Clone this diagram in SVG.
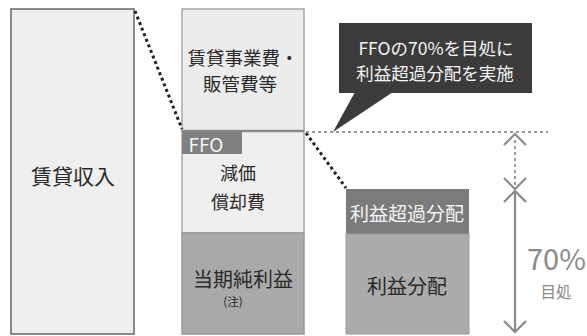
<svg xmlns="http://www.w3.org/2000/svg" width="587" height="336" viewBox="0 0 587 336">
<style>
text{font-family:"Noto Sans CJK JP","Noto Sans",sans-serif;text-anchor:middle;dominant-baseline:central}
.dk{fill:#2a2a2a}
.wt{fill:#f4f4f4}
.gy{fill:#8a8a8a}
.dot{stroke:#222;stroke-width:3;stroke-dasharray:3 3;fill:none}
.hd{stroke:#9a9a9a;stroke-width:2;stroke-dasharray:3 3;fill:none}
.ar{stroke:#8a8a8a;stroke-width:2.2;fill:none}
</style>
<rect width="587" height="336" fill="#ffffff"/>
<g id="rent-income">
<rect x="11" y="9" width="123" height="325" fill="#efefef" stroke="#666" stroke-width="1.5"/>
<text x="73" y="175" font-size="21" class="dk">賃貸収入</text>
</g>
<g id="expenses">
<rect x="182" y="9" width="122" height="122" fill="#ececec" stroke="#a8a8a8" stroke-width="1.5"/>
<text x="243" y="57" font-size="18.5" class="dk">賃貸事業費・</text>
<text x="240" y="83" font-size="18.5" class="dk">販管費等</text>
</g>
<g id="depreciation">
<rect x="182" y="131" width="122" height="102" fill="#efefef" stroke="#a8a8a8" stroke-width="1.5"/>
<text x="238" y="172" font-size="18" class="dk">減価</text>
<text x="238" y="201" font-size="18" class="dk">償却費</text>
</g>
<g id="net-income">
<rect x="182" y="233" width="122" height="101" fill="#a9a9a9" stroke="#999" stroke-width="1.5"/>
<text x="243" y="278" font-size="20" class="dk">当期純利益</text>
<text x="233" y="301" font-size="11.5" class="dk">(注)</text>
</g>
<g id="ffo">
<line x1="182" y1="131" x2="304" y2="131" stroke="#8a8a8a" stroke-width="2.5"/>
<rect x="182" y="131" width="60" height="23" fill="#808080"/>
<text x="206" y="143" font-size="19" class="wt">FFO</text>
</g>
<g id="excess-distribution">
<rect x="346" y="189" width="123" height="45" fill="#7b7b7b"/>
<text x="407" y="212" font-size="19" class="wt">利益超過分配</text>
</g>
<g id="profit-distribution">
<rect x="346" y="234" width="123" height="100" fill="#ababab" stroke="#9c9c9c" stroke-width="1"/>
<text x="407" y="285" font-size="20" class="dk">利益分配</text>
</g>
<g id="callout">
<rect x="339" y="23" width="193" height="70" fill="#3b3b3b"/>
<polygon points="355,92 333,132 393,92" fill="#3b3b3b"/>
<text x="436" y="47" font-size="17.5" class="wt">FFOの70%を目処に</text>
<text x="435" y="72" font-size="17.5" class="wt">利益超過分配を実施</text>
</g>
<g id="connectors">
<line class="dot" x1="135" y1="11" x2="182" y2="129"/>
<line class="dot" x1="306" y1="133" x2="346" y2="188"/>
<line class="hd" x1="306" y1="132" x2="548" y2="132"/>
<line class="hd" x1="515" y1="140" x2="515" y2="186"/>
<polyline class="ar" points="504,145 515,134 526,145"/>
<polyline class="ar" points="504,178 515,189 526,178"/>
<polyline class="ar" points="504,202 515,191 526,202"/>
<line class="ar" x1="515" y1="191" x2="515" y2="333"/>
<polyline class="ar" points="504,321 515,332 526,321"/>
</g>
<g id="ratio-label">
<text x="527" y="257" font-size="29" class="gy" style="text-anchor:start">70%</text>
<text x="556" y="291" font-size="15.5" class="gy">目処</text>
</g>
</svg>
